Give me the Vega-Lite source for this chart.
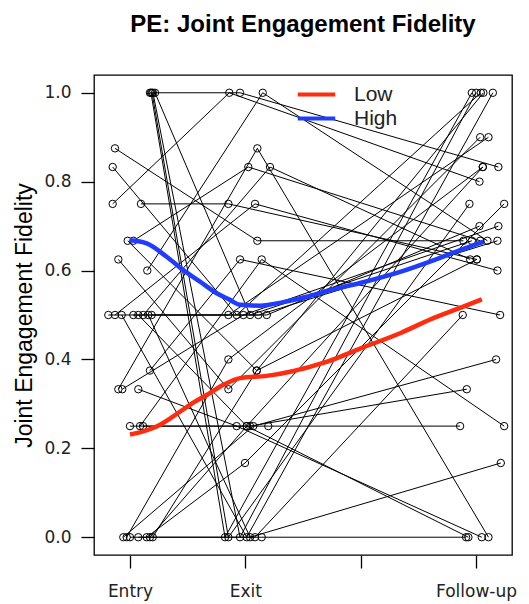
{
  "$schema": "https://vega.github.io/schema/vega-lite/v6.json",
  "width": 418,
  "height": 480,
  "autosize": {"type": "none"},
  "padding": {"left": 94, "top": 75, "right": 17, "bottom": 49},
  "background": "white",
  "title": {"text": "PE: Joint Engagement Fidelity", "font": "Liberation Sans", "fontSize": 24, "fontWeight": "bold", "color": "black", "anchor": "middle", "offset": 38},
  "config": {
    "view": {"stroke": "black", "strokeWidth": 1.3},
    "axis": {"grid": false, "domain": false, "tickColor": "black", "tickWidth": 1.3, "labelColor": "#222", "labelFont": "DejaVu Sans", "labelFontSize": 17}
  },
  "datasets": {
    "pts": [
      {"s":1,"x":1.173,"y":1},{"s":1,"x":1.954,"y":1},{"s":1,"x":4.194,"y":0.833},
      {"s":2,"x":1.182,"y":1},{"s":2,"x":1.824,"y":0},{"s":2,"x":3.964,"y":1},
      {"s":3,"x":1.191,"y":1},{"s":3,"x":1.853,"y":0},{"s":3,"x":3.943,"y":0.75},
      {"s":4,"x":1.199,"y":1},{"s":4,"x":1.954,"y":0},{"s":4,"x":4.001,"y":1},
      {"s":5,"x":1.217,"y":1},{"s":5,"x":2.041,"y":0.5},{"s":5,"x":3.964,"y":0.667},
      {"s":6,"x":0.870,"y":0.875},{"s":6,"x":2.104,"y":0.667},{"s":6,"x":3.891,"y":0.667},
      {"s":7,"x":0.850,"y":0.833},{"s":7,"x":1.925,"y":0.5},{"s":7,"x":4.042,"y":1},
      {"s":8,"x":0.850,"y":0.75},{"s":8,"x":1.861,"y":1},{"s":8,"x":4.030,"y":0.8},
      {"s":9,"x":1.095,"y":0.75},{"s":9,"x":1.853,"y":0.75},{"s":9,"x":4.007,"y":0.625},
      {"s":10,"x":0.980,"y":0.667},{"s":10,"x":2.099,"y":0.375},{"s":10,"x":4.064,"y":1},
      {"s":11,"x":1.029,"y":0.667},{"s":11,"x":2.026,"y":0.833},{"s":11,"x":4.036,"y":0.667},
      {"s":12,"x":0.899,"y":0.625},{"s":12,"x":1.853,"y":0.333},{"s":12,"x":4.036,"y":0.9},
      {"s":13,"x":1.150,"y":0.6},{"s":13,"x":2.151,"y":1},{"s":13,"x":4.099,"y":0.667},
      {"s":14,"x":0.812,"y":0.5},{"s":14,"x":1.853,"y":0.5},{"s":14,"x":4.108,"y":0.9},
      {"s":15,"x":0.870,"y":0.5},{"s":15,"x":2.084,"y":0.75},{"s":15,"x":4.186,"y":0.6},
      {"s":16,"x":0.928,"y":0.5},{"s":16,"x":2.012,"y":0},{"s":16,"x":4.146,"y":1},
      {"s":17,"x":1.029,"y":0.5},{"s":17,"x":2.113,"y":0.5},{"s":17,"x":4.186,"y":0.667},
      {"s":18,"x":1.072,"y":0.5},{"s":18,"x":2.012,"y":0.25},{"s":18,"x":3.934,"y":0},
      {"s":19,"x":1.115,"y":0.5},{"s":19,"x":2.214,"y":0.833},{"s":19,"x":3.949,"y":0.625},
      {"s":20,"x":1.159,"y":0.5},{"s":20,"x":2.041,"y":0},{"s":20,"x":4.215,"y":0.167},
      {"s":21,"x":1.188,"y":0.5},{"s":21,"x":2.186,"y":0.5},{"s":21,"x":4.030,"y":0.7},
      {"s":22,"x":1.173,"y":0.375},{"s":22,"x":1.954,"y":0.625},{"s":22,"x":4.209,"y":0.5},
      {"s":23,"x":0.899,"y":0.333},{"s":23,"x":2.104,"y":0.875},{"s":23,"x":4.108,"y":0},
      {"s":24,"x":0.933,"y":0.333},{"s":24,"x":1.983,"y":0.5},{"s":24,"x":4.194,"y":0.7},
      {"s":25,"x":1.072,"y":0.333},{"s":25,"x":1.925,"y":0.25},{"s":25,"x":4.050,"y":0},
      {"s":26,"x":1.000,"y":0.25},{"s":26,"x":2.199,"y":0.25},{"s":26,"x":3.862,"y":0.25},
      {"s":27,"x":1.087,"y":0.25},{"s":27,"x":2.142,"y":0.625},{"s":27,"x":4.244,"y":0.25},
      {"s":28,"x":1.113,"y":0.25},{"s":28,"x":2.041,"y":0.25},{"s":28,"x":3.920,"y":0.333},
      {"s":29,"x":0.942,"y":0},{"s":29,"x":2.069,"y":0.25},{"s":29,"x":4.174,"y":0.4},
      {"s":30,"x":0.971,"y":0},{"s":30,"x":1.853,"y":0.4},{"s":30,"x":4.059,"y":0.833},
      {"s":31,"x":1.000,"y":0},{"s":31,"x":2.084,"y":0},{"s":31,"x":3.885,"y":0.5},
      {"s":32,"x":1.072,"y":0},{"s":32,"x":2.142,"y":0},{"s":32,"x":3.914,"y":0},
      {"s":33,"x":1.145,"y":0},{"s":33,"x":1.997,"y":0.167},{"s":33,"x":4.244,"y":0.75},
      {"s":34,"x":1.173,"y":0},{"s":34,"x":2.012,"y":0.25},{"s":34,"x":4.059,"y":0.833},
      {"s":35,"x":1.197,"y":0},{"s":35,"x":2.099,"y":0.375},{"s":35,"x":4.007,"y":0.625}
    ],
    "smooth": [
      {"g":"High","x":1.0,"y":0.668},{"g":"High","x":1.145,"y":0.661},{"g":"High","x":1.318,"y":0.631},{"g":"High","x":1.462,"y":0.601},{"g":"High","x":1.607,"y":0.575},{"g":"High","x":1.752,"y":0.549},{"g":"High","x":1.867,"y":0.534},{"g":"High","x":1.954,"y":0.523},{"g":"High","x":2.127,"y":0.521},{"g":"High","x":2.33,"y":0.529},{"g":"High","x":2.532,"y":0.541},{"g":"High","x":2.735,"y":0.556},{"g":"High","x":2.995,"y":0.572},{"g":"High","x":3.342,"y":0.597},{"g":"High","x":3.63,"y":0.623},{"g":"High","x":3.862,"y":0.646},{"g":"High","x":4.064,"y":0.665},
      {"g":"Low","x":1.0,"y":0.231},{"g":"Low","x":1.115,"y":0.238},{"g":"Low","x":1.231,"y":0.249},{"g":"Low","x":1.376,"y":0.272},{"g":"Low","x":1.52,"y":0.298},{"g":"Low","x":1.665,"y":0.32},{"g":"Low","x":1.81,"y":0.343},{"g":"Low","x":1.954,"y":0.358},{"g":"Low","x":2.185,"y":0.363},{"g":"Low","x":2.42,"y":0.374},{"g":"Low","x":2.595,"y":0.386},{"g":"Low","x":2.71,"y":0.395},{"g":"Low","x":3.0,"y":0.425},{"g":"Low","x":3.342,"y":0.459},{"g":"Low","x":3.63,"y":0.493},{"g":"Low","x":3.862,"y":0.516},{"g":"Low","x":4.05,"y":0.535}
    ]
  },
  "encoding": {
    "x": {"field": "x", "type": "quantitative", "scale": {"domain": [0.688, 4.312], "nice": false, "zero": false},
      "axis": {"title": null, "values": [1, 2, 3, 4], "labelExpr": "datum.value == 1 ? 'Entry' : datum.value == 2 ? 'Exit' : datum.value == 4 ? 'Follow-up' : ''", "tickSize": 13, "labelPadding": 15}},
    "y": {"field": "y", "type": "quantitative", "scale": {"domain": [-0.04, 1.04], "nice": false, "zero": false},
      "axis": {"title": "Joint Engagement Fidelity", "values": [0, 0.2, 0.4, 0.6, 0.8, 1.0], "format": ".1f", "tickSize": 13, "labelPadding": 10, "titleFont": "Liberation Sans", "titleFontSize": 23, "titleFontWeight": "normal", "titleColor": "black", "titlePadding": 7}}
  },
  "layer": [
    {"data": {"name": "pts"}, "mark": {"type": "line", "color": "black", "strokeWidth": 1}, "encoding": {"detail": {"field": "s"}, "order": {"field": "x"}}},
    {"data": {"name": "pts"}, "mark": {"type": "point", "shape": "circle", "filled": false, "color": "black", "size": 55, "strokeWidth": 1, "opacity": 1}},
    {"data": {"name": "smooth"}, "mark": {"type": "line", "strokeWidth": 4.5, "interpolate": "monotone"},
      "encoding": {"order": {"field": "x"}, "color": {"field": "g", "type": "nominal", "scale": {"domain": ["Low", "High"], "range": ["#ff2d0f", "#1f3cff"]},
        "legend": {"title": null, "orient": "none", "legendX": 212, "legendY": 9, "symbolType": "M-2.5,0H2.5", "symbolSize": 225, "symbolStrokeWidth": 4, "labelFont": "Liberation Sans", "labelFontSize": 21, "labelColor": "#222", "labelOffset": 27, "rowPadding": 2}}}}
  ]
}
